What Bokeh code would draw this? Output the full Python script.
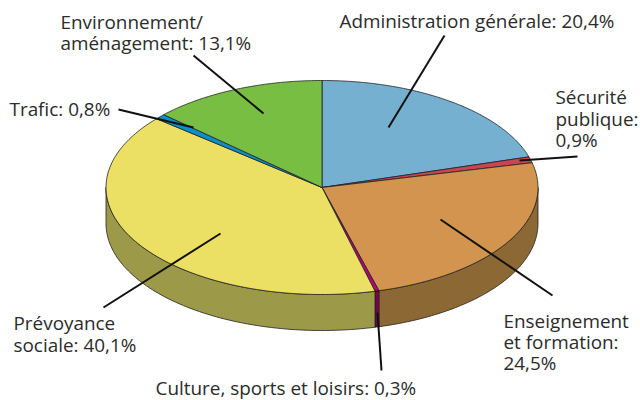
import numpy as np
from bokeh.plotting import figure
from bokeh.models import Range1d
from bokeh.core.properties import value
from bokeh.embed import file_html
from bokeh.resources import INLINE

categories = ["Administration générale", "Sécurité publique", "Enseignement et formation",
              "Culture, sports et loisirs", "Prévoyance sociale", "Trafic", "Environnement/aménagement"]
shares = [20.4, 0.9, 24.5, 0.3, 40.1, 0.8, 13.1]
top_colors = ["#76B0D1", "#C8464E", "#D2944E", "#B8007A", "#ECE064", "#0A8FC8", "#77BE43"]
side_colors = ["#5A8AA4", "#8E3238", "#8C6835", "#7B0050", "#9C9A48", "#086C98", "#5A8F33"]

labels = [
    (339, 20, "Administration générale: 20,4%"),
    (60, 21, "Environnement/"),
    (60, 42, "aménagement: 13,1%"),
    (9, 108, "Trafic: 0,8%"),
    (555, 96, "Sécurité"),
    (555, 118, "publique:"),
    (555, 139, "0,9%"),
    (503, 320, "Enseignement"),
    (503, 341, "et formation:"),
    (503, 362, "24,5%"),
    (13, 322, "Prévoyance"),
    (13, 344, "sociale: 40,1%"),
    (155, 387, "Culture, sports et loisirs: 0,3%"),
]
leaders = [
    (193, 55, 263, 113),
    (118, 109, 193, 127),
    (444, 35, 388, 127),
    (577, 156, 519, 160),
    (440, 219, 552, 295),
    (381, 370, 377, 312),
    (220, 233, 103, 307),
]

CX, CY, RX, RY, DEPTH = 321.5, 187, 216, 107, 36

p = figure(width=640, height=400, output_backend="svg", toolbar_location=None,
           x_range=Range1d(0, 640), y_range=Range1d(400, 0),
           x_axis_type=None, y_axis_type=None, min_border=0,
           outline_line_color=None, background_fill_color="white", border_fill_color="white")
p.grid.visible = False

total = sum(shares)
edges = np.cumsum([0] + shares) / total * 2 * np.pi  # clockwise from 12 o'clock


def ell(t, dy=0.0):
    return CX + RX * np.sin(t), CY - RY * np.cos(t) + dy


# side wall: only the front half of the disc is visible
for i in range(len(shares)):
    a = max(edges[i], np.pi / 2)
    b = min(edges[i + 1], 3 * np.pi / 2)
    if b <= a:
        continue
    t = np.linspace(a, b, 80)
    x1, y1 = ell(t)
    x2, y2 = ell(t[::-1], DEPTH)
    p.patch(np.r_[x1, x2], np.r_[y1, y2], fill_color=side_colors[i],
            line_color="#222222", line_width=0.8)

# top face
for i in range(len(shares)):
    t = np.linspace(edges[i], edges[i + 1], 120)
    x, y = ell(t)
    p.patch(np.r_[CX, x], np.r_[CY, y], fill_color=top_colors[i],
            line_color="#222222", line_width=0.8)

p.segment([l[0] for l in leaders], [l[1] for l in leaders],
          [l[2] for l in leaders], [l[3] for l in leaders],
          line_color="#111111", line_width=2)

p.text([l[0] for l in labels], [l[1] for l in labels], text=[l[2] for l in labels],
       text_font=value("Open Sans"), text_font_size="18.9px", text_color="#2b2b2b",
       text_baseline="alphabetic", text_align="left")

open("out.html", "w").write(file_html(p, INLINE))
